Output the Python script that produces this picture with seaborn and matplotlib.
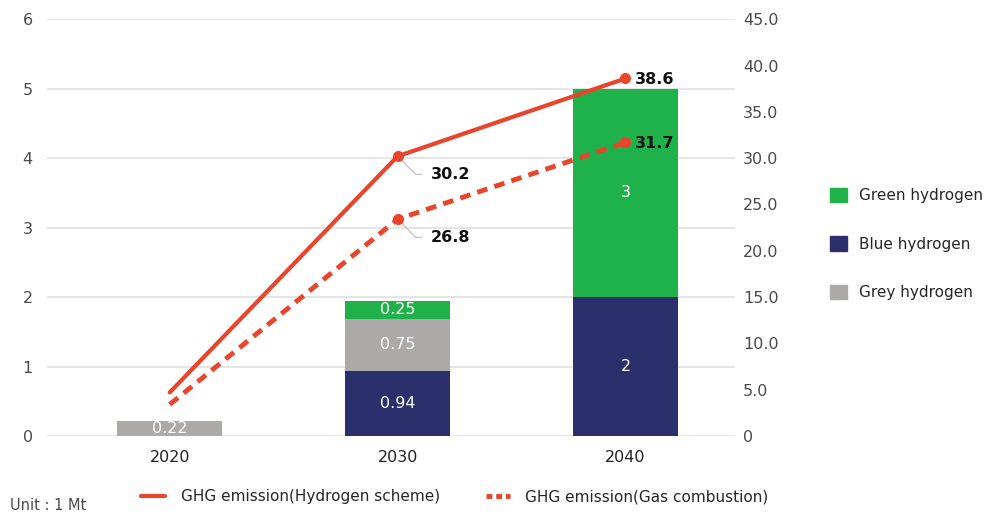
import numpy as np
import pandas as pd
import matplotlib.pyplot as plt
import seaborn as sns
from matplotlib.patches import Patch
from matplotlib.lines import Line2D

# data
years = ["2020", "2030", "2040"]
blue_h2 = [0.0, 0.94, 2.0]
grey_h2 = [0.22, 0.75, 0.0]
green_h2 = [0.0, 0.25, 3.0]
hydrogen_scheme = [4.7, 30.2, 38.6]
hydrogen_labels = ["", "30.2", "38.6"]
gas_combustion = [3.4, 23.4, 31.7]
gas_labels = ["", "26.8", "31.7"]

GREEN = "#1fb24a"
NAVY = "#2b2f6b"
GREY = "#acaaa9"
RED = "#e8452c"
TICK = "#4a4a4a"

sns.set_theme(style="white")
plt.rcParams['font.family'] = ['DejaVu Sans']

df = pd.DataFrame({"year": years, "blue": blue_h2, "grey": grey_h2, "green": green_h2})

fig = plt.figure(figsize=(9.93, 5.19), dpi=100)
ax = fig.add_axes([0.047, 0.160, 0.693, 0.803])

# stacked bars
bottom = np.zeros(len(years))
for col, color in [("blue", NAVY), ("grey", GREY), ("green", GREEN)]:
    sns.barplot(data=df, x="year", y=col, color=color, width=0.46, bottom=bottom,
                saturation=1, linewidth=0, ax=ax, zorder=2)
    for i, v in enumerate(df[col]):
        if v > 0:
            txt = f"{v:g}"
            ax.text(i, bottom[i] + v / 2, txt, ha="center", va="center", color="white",
                    fontsize=11.5, zorder=5)
    bottom = bottom + df[col].values

ax.set_ylim(0, 6)
ax.set_xlim(-0.54, 2.48)
ax.set_yticks(range(0, 7))
ax.yaxis.grid(True, color="#e2e0e0", linewidth=1.2, zorder=0)
ax.set_axisbelow(True)
ax.set_xlabel("")
ax.set_ylabel("")
for s in ax.spines.values():
    s.set_visible(False)
ax.tick_params(axis="y", length=0, pad=10, labelsize=11.5, labelcolor=TICK)
ax.tick_params(axis="x", length=0, pad=10, labelsize=11.5, labelcolor="#222222")

# lines on right axis
ax2 = ax.twinx()
x = np.arange(len(years))
sns.lineplot(x=x, y=hydrogen_scheme, ax=ax2, color=RED, linewidth=3, marker="o",
             markersize=8, markevery=[1, 2], markeredgewidth=0, zorder=4)
sns.lineplot(x=x, y=gas_combustion, ax=ax2, color=RED, linewidth=3.5, marker="o",
             markersize=8, markevery=[1, 2], markeredgewidth=0, zorder=4)
ax2.lines[1].set_linestyle((0, (2.2, 1.5)))
ax2.set_ylim(0, 45)
ax2.set_yticks(np.arange(0, 46, 5))
ax2.set_yticklabels(["0"] + [f"{v:.1f}" for v in np.arange(5, 46, 5)])
for s in ax2.spines.values():
    s.set_visible(False)
ax2.tick_params(axis="y", length=0, pad=6, labelsize=11.5, labelcolor=TICK)
ax2.grid(False)
ax2.set_xlim(-0.54, 2.48)

# labels for 2030 with leader lines
for vals, labs in [(hydrogen_scheme, hydrogen_labels), (gas_combustion, gas_labels)]:
    ax2.annotate(labs[1], xy=(1, vals[1]), xytext=(24, -13), textcoords="offset points",
                 fontsize=11.5, fontweight="bold", color="#111111", va="center",
                 arrowprops=dict(arrowstyle="-", color="#bbbbbb", lw=0.8,
                                 connectionstyle="angle,angleA=0,angleB=-45,rad=0",
                                 shrinkA=4, shrinkB=4))
    ax2.annotate(labs[2], xy=(2, vals[2]), xytext=(7, -1), textcoords="offset points",
                 fontsize=11.5, fontweight="bold", color="#111111", va="center")

# right legend
handles = [Patch(color=GREEN), Patch(color=NAVY), Patch(color=GREY)]
fig.legend(handles, ["Green hydrogen", "Blue hydrogen", "Grey hydrogen"],
           loc="center left", bbox_to_anchor=(0.822, 0.53), frameon=False,
           fontsize=11, handlelength=1.1, handleheight=1.1, labelspacing=2.15,
           handletextpad=0.8)

# bottom legend
line_handles = [Line2D([], [], color=RED, lw=3),
                Line2D([], [], color=RED, lw=3.5, linestyle=(0, (1.2, 0.8)))]
fig.legend(line_handles, ["GHG emission(Hydrogen scheme)", "GHG emission(Gas combustion)"],
           loc="center left", bbox_to_anchor=(0.128, 0.043), ncol=2, frameon=False,
           fontsize=11, handlelength=1.6, columnspacing=3.0, handletextpad=1.0)
fig.text(0.01, 0.018, "Unit : 1 Mt", fontsize=10.5, color=TICK)

fig.savefig("out.png", dpi=100)
